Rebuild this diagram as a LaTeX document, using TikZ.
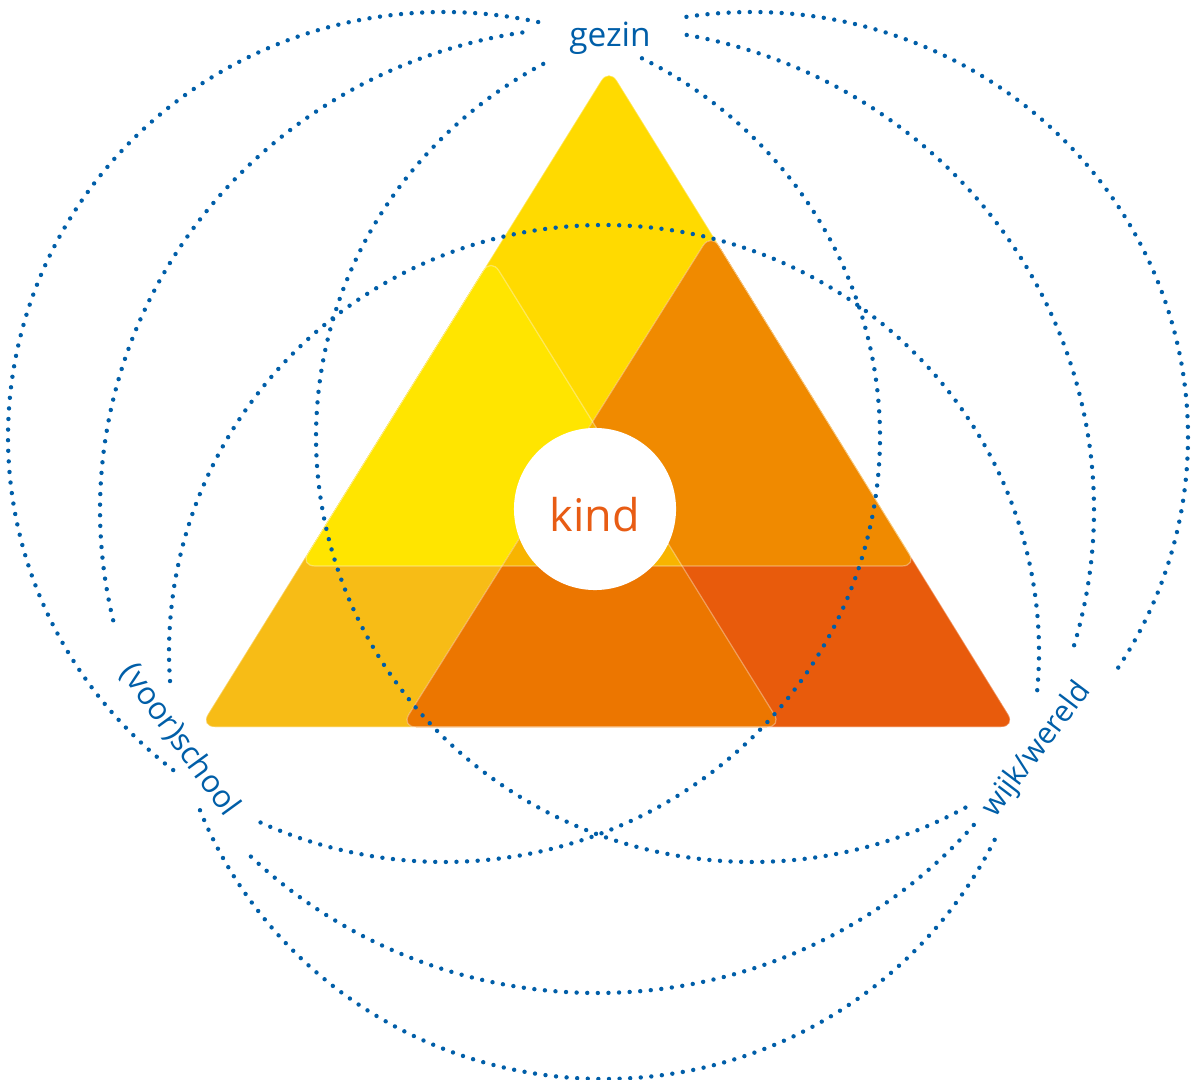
\documentclass[tikz,border=0pt]{standalone}
\usepackage{fontspec}
\setmainfont{Open Sans}
\definecolor{gold}{RGB}{255,218,0}
\definecolor{lemon}{RGB}{255,229,0}
\definecolor{amber}{RGB}{247,188,22}
\definecolor{tangerine}{RGB}{240,138,0}
\definecolor{redorange}{RGB}{232,91,12}
\definecolor{midorange}{RGB}{236,118,0}
\definecolor{coreorange}{RGB}{248,180,0}
\definecolor{dotblue}{RGB}{0,94,168}
\definecolor{kindorange}{RGB}{232,92,20}
\newcommand\dotellarc[6]{\draw[dotline] plot[domain=#5:#6,samples=200,variable=\t] ({#1+#3*cos(\t)},{#2+#4*sin(\t)});}
\begin{document}
\begin{tikzpicture}[x=0.01cm,y=-0.01cm]
\tikzset{
  dotline/.style={draw=dotblue, line width=0.044cm, line cap=round, dash pattern=on 0pt off 0.106cm},
  tri/.style={rounded corners=0.15cm},
  seam/.style={draw=white, draw opacity=0.35, line width=0.012cm, rounded corners=0.15cm},
  lbl/.style={text=dotblue, inner sep=0pt},
}
\useasboundingbox (0,0) rectangle (1192,1080);
% triangle corners
\coordinate (Ta) at (609,68);  \coordinate (Tl) at (300,566); \coordinate (Tr) at (917,566);
\coordinate (La) at (491,258); \coordinate (Ll) at (200,727); \coordinate (Lr) at (782,727);
\coordinate (Ra) at (711,233); \coordinate (Rl) at (401,727); \coordinate (Rr) at (1016,727);
% base layers
\fill[gold, tri] (Ta) -- (Tr) -- (Tl) -- cycle;
\fill[amber, tri] (La) -- (Lr) -- (Ll) -- cycle;
\fill[redorange, tri] (Ra) -- (Rr) -- (Rl) -- cycle;
% overlaps
\begin{scope}
  \clip[tri] (Ta) -- (Tr) -- (Tl) -- cycle;
  \fill[lemon, tri] (La) -- (Lr) -- (Ll) -- cycle;
  \fill[tangerine, tri] (Ra) -- (Rr) -- (Rl) -- cycle;
\end{scope}
\begin{scope}
  \clip[tri] (La) -- (Lr) -- (Ll) -- cycle;
  \fill[midorange, tri] (Ra) -- (Rr) -- (Rl) -- cycle;
  \clip[tri] (Ta) -- (Tr) -- (Tl) -- cycle;
  \fill[coreorange, tri] (Ra) -- (Rr) -- (Rl) -- cycle;
\end{scope}
% faint seams
\begin{scope}
  \clip[tri] (Ta) -- (Tr) -- (Rr) -- (Ll) -- cycle;
  \path[seam] (Ta) -- (Tr) -- (Tl) -- cycle;
  \path[seam] (La) -- (Lr) -- (Ll) -- cycle;
  \path[seam] (Ra) -- (Rr) -- (Rl) -- cycle;
\end{scope}
% centre
\node[circle, fill=white, minimum size=1.62cm, inner sep=0pt] (kindc) at (595,509) {};
\node[text=kindorange, font=\fontsize{12.8}{14}\selectfont, inner sep=0pt] (kind) at (595,515) {kind};
% dotted rings
% A (left)
\dotellarc{444}{437}{436}{425}{-63}{116}
\dotellarc{444}{437}{436}{425}{128.4}{283}
% B (right)
\dotellarc{752}{437}{436}{425}{-98.65}{34.1}
\dotellarc{752}{437}{436}{425}{60.7}{241.6}
% C (lower)
\dotellarc{604}{652}{435}{427}{176.1}{366.4}
\dotellarc{604}{652}{435}{427}{26.1}{159}
% D (middle)
\dotellarc{597}{510}{497}{483}{-79.6}{17.4}
\dotellarc{597}{510}{497}{483}{40.7}{134.4}
\dotellarc{597}{510}{497}{483}{166.8}{262.55}
% labels
\node[lbl, font=\fontsize{9.5}{11}\selectfont] (gezin) at (610,38) {gezin};
\node[lbl, font=\fontsize{8.9}{10}\selectfont, rotate=-54] (school) at (180,740) {(voor)school};
\node[lbl, font=\fontsize{8.5}{10}\selectfont, rotate=53] (wijk) at (1037,750) {wijk/wereld};
\end{tikzpicture}
\end{document}
